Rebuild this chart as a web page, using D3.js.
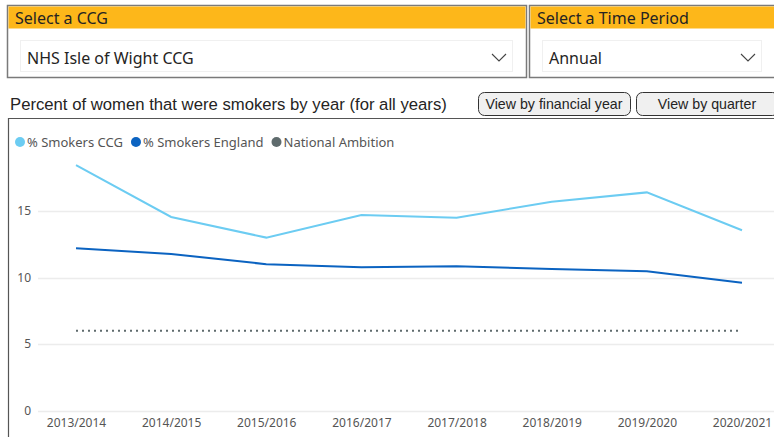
<!DOCTYPE html>
<html><head><meta charset="utf-8">
<script src="https://cdn.jsdelivr.net/npm/d3@7"></script>
<style>
html,body{margin:0;padding:0;background:#fff;overflow:hidden}
svg{display:block}
</style></head><body>
<svg id="c" width="774" height="437"></svg>
<script>
const years = ["2013/2014","2014/2015","2015/2016","2016/2017","2017/2018","2018/2019","2019/2020","2020/2021"];
const ccgValues = [18.45, 14.55, 13.0, 14.7, 14.5, 15.7, 16.4, 13.55];
const englandValues = [12.2, 11.77, 11.0, 10.78, 10.84, 10.64, 10.47, 9.6];
const ambitionValues = [6, 6, 6, 6, 6, 6, 6, 6];
const yTicks = [0, 5, 10, 15];
const seriesNames = ["% Smokers CCG", "% Smokers England", "National Ambition"];
const seriesColors = ["#6CCCF2", "#0B63C1", "#5F6B6D"];

const svg = d3.select("#c");
const segoe = "'Noto Sans','Open Sans',sans-serif";
const arial = "'Liberation Sans',Arial,sans-serif";

// Slicers
function slicer(x, w, title, value) {
  const g = svg.append("g");
  g.append("rect").attr("x", x + 0.5).attr("y", 5.5).attr("width", w).attr("height", 72).attr("fill", "#fff").attr("stroke", "#7a7a7a").attr("stroke-width", 1.5);
  g.append("rect").attr("x", x + 1.5).attr("y", 6.5).attr("width", w - 2).attr("height", 22).attr("fill", "#FDB71A");
  g.append("text").attr("x", x + 8).attr("y", 24).attr("font-family", segoe).attr("font-size", 16).attr("fill", "#252423").text(title);
  g.append("rect").attr("x", x + 13.5).attr("y", 40.5).attr("width", w - 27).attr("height", 31).attr("fill", "#fff").attr("stroke", "#f0f0f0");
  g.append("text").attr("x", x + 20).attr("y", 64).attr("font-family", segoe).attr("font-size", 16).attr("fill", "#252423").text(value);
  const cx = x + w - 27;
  g.append("path").attr("d", `M${cx - 7},${54} L${cx},${61} L${cx + 7},${54}`).attr("fill", "none").attr("stroke", "#444").attr("stroke-width", 1.1);
}
slicer(7, 519, "Select a CCG", "NHS Isle of Wight CCG");
slicer(529, 246, "Select a Time Period", "Annual");

// Title
svg.append("text").attr("x", 10).attr("y", 110).attr("font-family", arial).attr("font-size", 16.7).attr("fill", "#252423").text("Percent of women that were smokers by year (for all years)");

// Buttons
function button(x, w, label) {
  svg.append("rect").attr("x", x + 0.5).attr("y", 92.5).attr("width", w).attr("height", 23).attr("rx", 6).attr("fill", "#f0f0f0").attr("stroke", "#333").attr("stroke-width", 1);
  svg.append("text").attr("x", x + w / 2).attr("y", 109).attr("text-anchor", "middle").attr("font-family", arial).attr("font-size", 14.2).attr("fill", "#252423").text(label);
}
button(478, 152, "View by financial year");
button(636, 142, "View by quarter");

// Chart frame
svg.append("path").attr("d", "M8.5,437 L8.5,118.5 L774,118.5").attr("fill", "none").attr("stroke", "#555").attr("stroke-width", 1.2);

// Legend
let lx = 20;
const legendG = svg.append("g");
seriesNames.forEach((n, i) => {
  legendG.append("circle").attr("cx", lx).attr("cy", 142).attr("r", 5).attr("fill", seriesColors[i]);
  const t = legendG.append("text").attr("x", lx + 7).attr("y", 147).attr("font-family", segoe).attr("font-size", 13).attr("fill", "#555").text(n);
  lx += 7 + t.node().getComputedTextLength() + 13;
});

// Scales
const x = d3.scalePoint().domain(years).range([76, 742]);
const y = d3.scaleLinear().domain([0, 15]).range([410.5, 211]);

// Gridlines
svg.append("g").selectAll("line").data(yTicks).join("line")
  .attr("x1", 38).attr("x2", 774).attr("y1", d => Math.round(y(d)) + 0.5).attr("y2", d => Math.round(y(d)) + 0.5)
  .attr("stroke", "#ececec").attr("stroke-width", 1.5);

// Y axis
const yAxis = svg.append("g").attr("transform", "translate(31,0)").call(d3.axisLeft(y).tickValues(yTicks).tickSize(0).tickPadding(0));
yAxis.select(".domain").remove();
yAxis.selectAll("text").attr("font-family", segoe).attr("font-size", 12).attr("fill", "#555");

// X axis
const xAxis = svg.append("g").attr("transform", "translate(0,418)").call(d3.axisBottom(x).tickSize(0).tickPadding(0));
xAxis.select(".domain").remove();
xAxis.selectAll("text").attr("font-family", segoe).attr("font-size", 12).attr("fill", "#555").attr("dy", "0.71em");

// Lines
const line = d3.line().x((d, i) => x(years[i])).y(d => y(d));
svg.append("path").datum(ambitionValues).attr("d", line).attr("fill", "none").attr("stroke", seriesColors[2]).attr("stroke-width", 2).attr("stroke-dasharray", "2,4");
svg.append("path").datum(ccgValues).attr("d", line).attr("fill", "none").attr("stroke", seriesColors[0]).attr("stroke-width", 2);
svg.append("path").datum(englandValues).attr("d", line).attr("fill", "none").attr("stroke", seriesColors[1]).attr("stroke-width", 2);
</script>
</body></html>
